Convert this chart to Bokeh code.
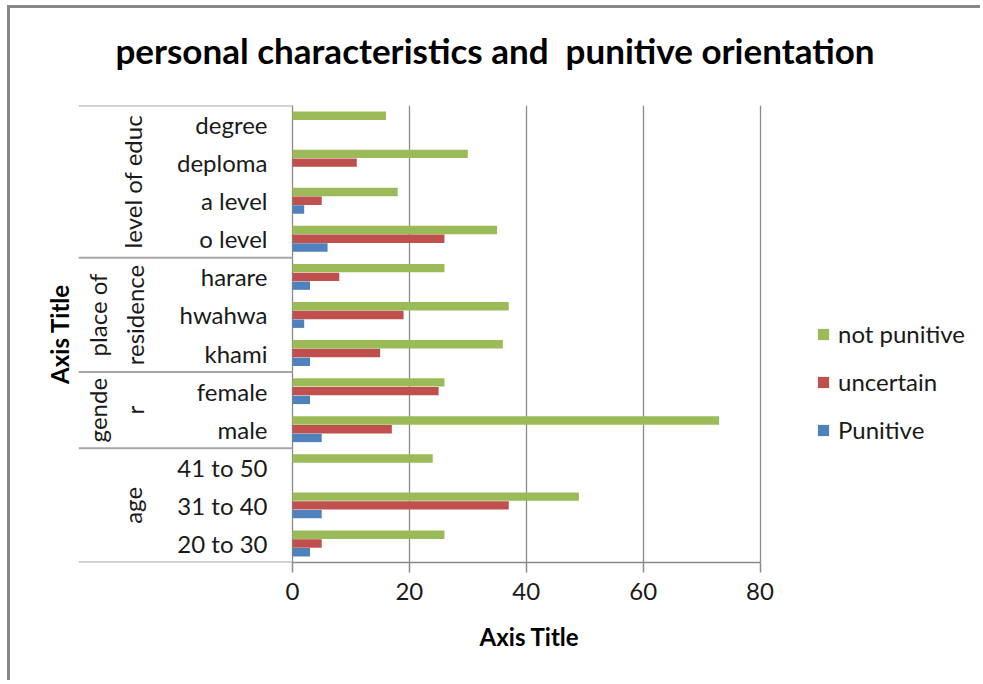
from bokeh.plotting import figure
from bokeh.layouts import column
from bokeh.models import ColumnDataSource, Range1d, FixedTicker, Legend, LegendItem, Div
from bokeh.transform import dodge
from bokeh.core.properties import value
from bokeh.embed import file_html
from bokeh.resources import INLINE

# ---------------- data (bottom to top, as drawn) ----------------
categories = ["20 to 30", "31 to 40", "41 to 50",
              "male", "female",
              "khami", "hwahwa", "harare",
              "o level", "a level", "deploma", "degree"]
groups = ["age", "gende\nr", "place of\nresidence", "level of educ"]
group_sizes = [3, 2, 3, 4]

punitive     = [3, 5, 0, 5, 3, 3, 2, 3, 6, 2, 0, 0]
uncertain    = [5, 37, 0, 17, 25, 15, 19, 8, 26, 5, 11, 0]
not_punitive = [26, 49, 24, 73, 26, 36, 37, 26, 35, 18, 30, 16]

series_names = ["not punitive", "uncertain", "Punitive"]
x_ticks = [0, 20, 40, 60, 80]
title_text = "personal characteristics and  punitive orientation"
x_title = "Axis Title"
y_title = "Axis Title"

# ---------------- styling ----------------
FONT = "Lato"
TXT = "#1a1a1a"
GRID = "#8a8a8a"
COLORS = {"not punitive": "#9BBB59", "uncertain": "#C0504D", "Punitive": "#4F81BD"}

W = 970
TITLE_H = 97
H = 575
x_start = -36.62
x_end = 118.24 - 3 / 5.844

title_div = Div(text=('<div style="font-family:Lato; font-weight:bold; font-size:35px; '
                      'line-height:42px; margin-top:21px; text-align:center; '
                      'white-space:pre; padding-left:34px; color:black; width:936px">'
                      + title_text + '</div>'),
                width=W, height=TITLE_H, margin=0)

p = figure(width=W, height=H, output_backend="svg", toolbar_location=None,
           x_range=Range1d(x_start, x_end), y_range=Range1d(0, len(categories)),
           min_border_left=68, min_border_right=0, min_border_top=0, min_border_bottom=118)
p.title = None
p.margin = 0
p.outline_line_color = None
p.background_fill_color = "white"
p.border_fill_color = "white"

# x axis
xa = p.xaxis[0]
xa.ticker = FixedTicker(ticks=x_ticks)
xa.bounds = (0, 80)
xa.axis_line_color = GRID
xa.axis_line_width = 1.5
xa.major_tick_line_color = GRID
xa.major_tick_line_width = 1.5
xa.major_tick_in = 0
xa.major_tick_out = 10
xa.minor_tick_line_color = None
xa.major_label_text_font = FONT
xa.major_label_text_font_size = "24px"
xa.major_label_text_color = TXT
xa.major_label_standoff = 10
xa.axis_label = x_title
xa.axis_label_text_font = FONT
xa.axis_label_text_font_size = "24px"
xa.axis_label_text_font_style = "bold"
xa.axis_label_text_color = "black"
xa.axis_label_standoff = 19

# y axis: only its title
ya = p.yaxis[0]
ya.ticker = FixedTicker(ticks=[])
ya.axis_line_color = None
ya.major_tick_line_color = None
ya.minor_tick_line_color = None
ya.axis_label = y_title
ya.axis_label_text_font = FONT
ya.axis_label_text_font_size = "24px"
ya.axis_label_text_font_style = "bold"
ya.axis_label_text_color = "black"
ya.axis_label_standoff = 5

p.xgrid.ticker = FixedTicker(ticks=x_ticks)
p.xgrid.grid_line_color = GRID
p.xgrid.grid_line_width = 1.3
p.ygrid.visible = False

# bars
ys = [i + 0.5 for i in range(len(categories))]
src = ColumnDataSource(dict(y=ys, cat=categories, Punitive=punitive,
                            uncertain=uncertain, **{"not punitive": not_punitive}))
offsets = {"not punitive": 0.23, "uncertain": 0.0, "Punitive": -0.23}
renderers = {}
for name in series_names:
    renderers[name] = p.hbar(y=dodge("y", offsets[name], range=p.y_range), left=0, right=name,
                             height=0.22, source=src, fill_color=COLORS[name],
                             line_color=None)

# category labels
p.text(x=-4.28, y="y", text="cat", source=src, text_align="right", text_baseline="middle",
       text_font=value(FONT), text_font_size="24px", text_color=TXT)

# group separators and labels
bounds = [0]
for s in group_sizes:
    bounds.append(bounds[-1] + s)
centers = [(bounds[i] + bounds[i + 1]) / 2 for i in range(len(groups))]
p.segment(x0=x_start, x1=0, y0=bounds, y1=bounds, line_color="#a6a6a6", line_width=2)
label_x = [-27.4, -30.2, -30.2, -27.4]
p.text(x=label_x, y=centers, text=groups, angle=1.5708, text_align="center",
       text_baseline="middle", text_font=value(FONT), text_font_size="24px",
       text_color=TXT, text_line_height=1.25)

# legend
legend = Legend(items=[LegendItem(label=n, renderers=[renderers[n]]) for n in series_names],
                location=(738, 118), glyph_width=14, glyph_height=14, label_standoff=8,
                spacing=19, padding=0, margin=0, border_line_color=None,
                background_fill_alpha=0, label_text_font=FONT, label_text_font_size="24px",
                label_text_color=TXT)
p.add_layout(legend)

page = column(title_div, p, spacing=0,
              styles={"margin-left": "7px", "margin-top": "5px",
                      "border-left": "3px solid #878787",
                      "border-top": "3px solid #878787"})

open("out.html", "w").write(file_html(page, INLINE))
